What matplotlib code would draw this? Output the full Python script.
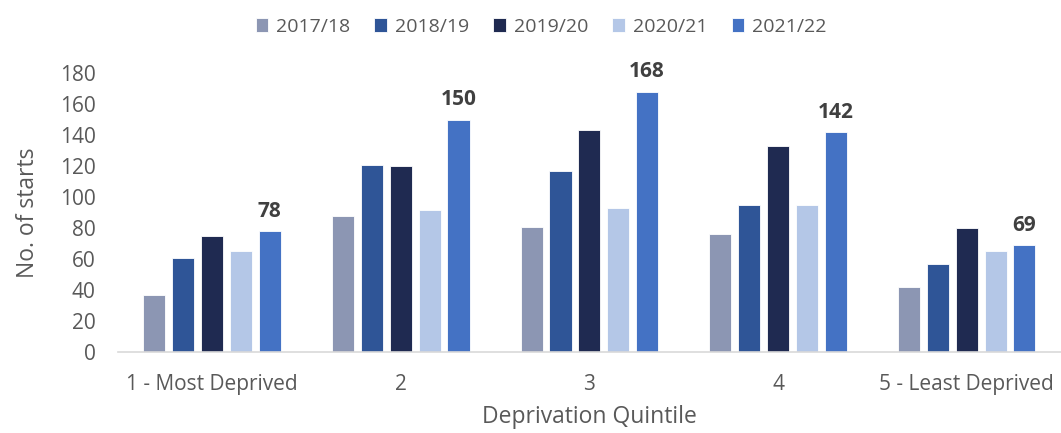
import numpy as np
import matplotlib
matplotlib.use("Agg")
import matplotlib.pyplot as plt

categories = ["1 - Most Deprived", "2", "3", "4", "5 - Least Deprived"]
years = ["2017/18", "2018/19", "2019/20", "2020/21", "2021/22"]
values = {
    "2017/18": [37, 88, 81, 76, 42],
    "2018/19": [61, 121, 117, 95, 57],
    "2019/20": [75, 120, 143, 133, 80],
    "2020/21": [65, 92, 93, 95, 65],
    "2021/22": [78, 150, 168, 142, 69],
}
colors = ["#8C96B3", "#2F5597", "#1F2A51", "#B4C7E7", "#4472C4"]

plt.rcParams['font.family'] = ['Open Sans', 'DejaVu Sans']
text_col = "#595959"

fig = plt.figure(figsize=(10.61, 4.33), dpi=100)
ax = fig.add_axes([0.111, 0.187, 0.889, 0.644])

x = np.arange(len(categories))
step = 0.153
width = 0.117
for i, (yr, col) in enumerate(zip(years, colors)):
    pos = x + (i - 2) * step
    ax.bar(pos, values[yr], width=width, color=col, label=yr,
           edgecolor="white", linewidth=0.6)
    if yr == "2021/22":
        for px, v in zip(pos, values[yr]):
            ax.text(px, v + 6, str(v), ha="center", va="bottom",
                    fontsize=15, fontweight="bold", color="#404040")

ax.set_xlim(-0.5, len(categories) - 0.5)
ax.set_ylim(0, 180)
ax.set_yticks(range(0, 181, 20))
ax.set_xticks(x)
ax.set_xticklabels(categories)
ax.tick_params(axis="both", length=0, labelsize=15, labelcolor=text_col)
ax.tick_params(axis="x", pad=16)
ax.tick_params(axis="y", pad=16)
for s in ["top", "right", "left"]:
    ax.spines[s].set_visible(False)
ax.spines["bottom"].set_color("#D9D9D9")
ax.spines["bottom"].set_linewidth(1.2)

ax.set_ylabel("No. of starts", fontsize=16.5, color=text_col, labelpad=14)
ax.set_xlabel("Deprivation Quintile", fontsize=16.5, color=text_col, labelpad=7)

fig.legend(loc="upper center", bbox_to_anchor=(0.51, 1.0), ncol=5, frameon=False,
           fontsize=14, labelcolor=text_col, handlelength=0.65, handleheight=0.75,
           handletextpad=0.4, columnspacing=1.25)

fig.savefig("out.png", dpi=100)
